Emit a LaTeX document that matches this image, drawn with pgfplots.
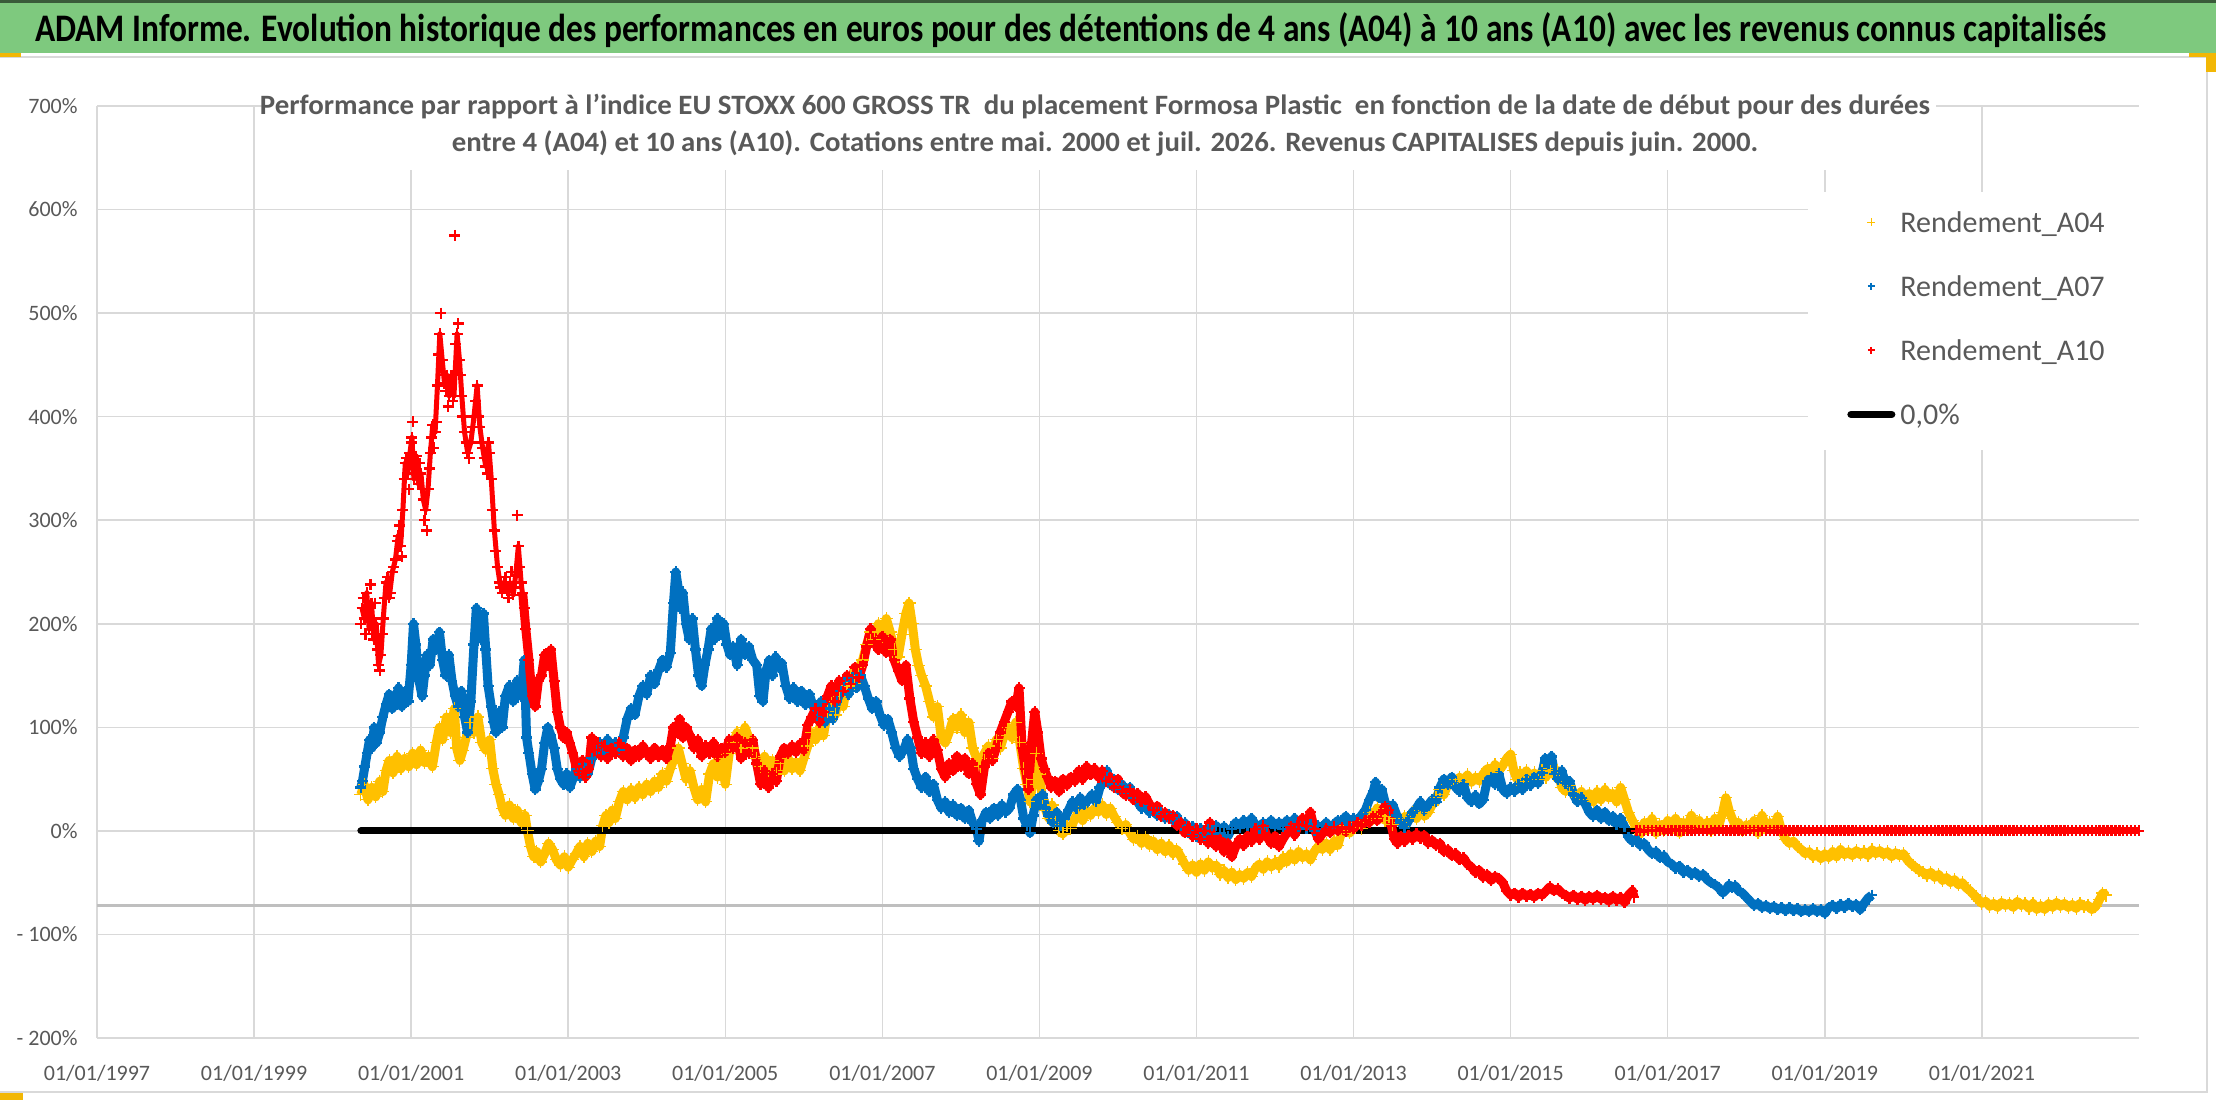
\documentclass[border=0pt]{standalone}
\usepackage{fontspec}
\setmainfont{Carlito}
\usepackage{graphicx}
\usepackage{pgfplots}
\usepackage{pgfplotstable}
\pgfplotsset{compat=1.18}
\definecolor{yel}{HTML}{FFC000}
\definecolor{blu}{HTML}{0070C0}
\definecolor{rd}{HTML}{FF0000}
\definecolor{txtgray}{HTML}{595959}
\definecolor{gridgray}{HTML}{D9D9D9}
\definecolor{axgray}{HTML}{BFBFBF}
\definecolor{banner}{RGB}{126,201,126}
\definecolor{handle}{HTML}{F2B705}

\pgfplotstableread{
x y
2000.36 35
2000.40 45
2000.45 30
2000.50 42
2000.55 33
2000.60 48
2000.64 38
2000.68 58
2000.72 68
2000.77 56
2000.82 72
2000.87 60
2000.92 70
2000.97 62
2001.02 75
2001.07 64
2001.12 78
2001.17 66
2001.22 72
2001.27 62
2001.32 85
2001.36 100
2001.40 88
2001.45 110
2001.50 95
2001.55 118
2001.58 80
2001.62 68
2001.66 78
2001.70 90
2001.75 105
2001.80 95
2001.85 110
2001.90 85
2001.95 78
2002.00 88
2002.04 60
2002.08 45
2002.12 35
2002.16 22
2002.20 15
2002.25 25
2002.30 12
2002.35 20
2002.40 8
2002.45 15
2002.48 0
2002.52 -15
2002.56 -25
2002.60 -20
2002.65 -30
2002.70 -22
2002.75 -12
2002.80 -18
2002.85 -28
2002.90 -33
2002.95 -25
2003.00 -35
2003.05 -28
2003.10 -22
2003.15 -15
2003.20 -25
2003.25 -12
2003.30 -20
2003.35 -10
2003.40 -15
2003.44 5
2003.48 15
2003.52 8
2003.56 20
2003.60 12
2003.65 28
2003.70 38
2003.75 30
2003.80 40
2003.85 32
2003.90 42
2003.95 35
2004.00 45
2004.05 38
2004.10 48
2004.15 42
2004.20 55
2004.25 48
2004.30 60
2004.35 70
2004.40 80
2004.45 65
2004.50 50
2004.55 58
2004.60 42
2004.65 30
2004.70 40
2004.75 28
2004.80 55
2004.85 65
2004.90 52
2004.95 70
2005.00 45
2005.05 75
2005.10 85
2005.15 95
2005.20 80
2005.25 100
2005.30 90
2005.35 80
2005.40 70
2005.45 62
2005.50 72
2005.55 58
2005.60 68
2005.65 55
2005.70 65
2005.75 58
2005.80 70
2005.85 60
2005.90 66
2005.95 58
2006.00 70
2006.05 82
2006.10 95
2006.15 88
2006.20 100
2006.25 92
2006.30 115
2006.35 125
2006.40 112
2006.45 130
2006.50 120
2006.55 140
2006.60 150
2006.65 142
2006.70 158
2006.75 165
2006.80 180
2006.85 192
2006.90 185
2006.95 200
2007.00 188
2007.05 205
2007.10 192
2007.15 175
2007.20 168
2007.25 190
2007.30 210
2007.34 220
2007.38 200
2007.42 175
2007.46 160
2007.50 150
2007.55 140
2007.60 125
2007.65 110
2007.70 120
2007.75 90
2007.80 85
2007.85 95
2007.90 108
2007.95 100
2008.00 112
2008.05 95
2008.10 105
2008.15 80
2008.20 70
2008.25 62
2008.30 75
2008.35 82
2008.40 70
2008.45 88
2008.50 80
2008.55 92
2008.60 100
2008.65 90
2008.70 105
2008.75 85
2008.80 60
2008.84 45
2008.88 28
2008.92 50
2008.96 75
2009.00 55
2009.04 30
2009.08 20
2009.12 12
2009.16 25
2009.20 8
2009.25 0
2009.30 -3
2009.35 5
2009.40 2
2009.45 12
2009.50 18
2009.55 10
2009.60 20
2009.65 15
2009.70 22
2009.75 18
2009.80 25
2009.85 16
2009.90 22
2009.95 14
2010.00 8
2010.05 2
2010.10 6
2010.15 -2
2010.20 -8
2010.25 -5
2010.30 -12
2010.35 -6
2010.40 -14
2010.45 -10
2010.50 -18
2010.55 -12
2010.60 -20
2010.65 -14
2010.70 -22
2010.75 -18
2010.80 -25
2010.85 -32
2010.90 -38
2010.95 -33
2011.00 -40
2011.05 -32
2011.10 -38
2011.15 -30
2011.20 -36
2011.25 -33
2011.30 -42
2011.35 -38
2011.40 -45
2011.45 -40
2011.50 -47
2011.55 -42
2011.60 -46
2011.65 -40
2011.70 -44
2011.75 -36
2011.80 -32
2011.85 -37
2011.90 -30
2011.95 -35
2012.00 -30
2012.05 -34
2012.10 -26
2012.15 -30
2012.20 -22
2012.25 -28
2012.30 -20
2012.35 -26
2012.40 -22
2012.45 -28
2012.50 -20
2012.55 -15
2012.60 -18
2012.65 -12
2012.70 -18
2012.75 -10
2012.80 -14
2012.85 0
2012.90 5
2012.95 -2
2013.00 3
2013.05 8
2013.10 2
2013.15 10
2013.20 18
2013.25 12
2013.30 22
2013.35 15
2013.40 10
2013.45 14
2013.50 6
2013.55 12
2013.60 8
2013.65 14
2013.70 10
2013.75 18
2013.80 12
2013.85 20
2013.90 14
2013.95 18
2014.00 25
2014.05 32
2014.10 40
2014.15 35
2014.20 45
2014.25 50
2014.30 46
2014.35 52
2014.40 48
2014.45 54
2014.50 47
2014.55 52
2014.60 48
2014.65 55
2014.70 60
2014.75 56
2014.80 64
2014.85 58
2014.90 63
2014.95 70
2015.00 74
2015.04 58
2015.08 50
2015.12 56
2015.16 48
2015.20 58
2015.25 52
2015.30 56
2015.35 50
2015.40 58
2015.45 52
2015.50 60
2015.55 54
2015.60 58
2015.65 42
2015.70 38
2015.75 44
2015.80 36
2015.85 32
2015.90 38
2015.95 30
2016.00 36
2016.05 28
2016.10 38
2016.15 30
2016.20 40
2016.25 32
2016.30 36
2016.35 28
2016.40 42
2016.45 30
2016.50 18
2016.55 10
2016.60 3
2016.65 -3
2016.70 8
2016.75 2
2016.80 12
2016.85 -2
2016.90 6
2016.95 0
2017.00 10
2017.05 3
2017.10 12
2017.15 -2
2017.20 8
2017.25 2
2017.30 15
2017.35 5
2017.40 10
2017.45 3
2017.50 8
2017.55 0
2017.60 12
2017.65 5
2017.70 18
2017.74 32
2017.78 20
2017.82 12
2017.86 5
2017.90 8
2017.95 0
2018.00 6
2018.05 2
2018.10 10
2018.15 -2
2018.20 15
2018.25 4
2018.30 8
2018.35 2
2018.40 14
2018.45 0
2018.50 -8
2018.55 -12
2018.60 -10
2018.65 -15
2018.70 -18
2018.75 -22
2018.80 -20
2018.85 -25
2018.90 -22
2018.95 -27
2019.00 -22
2019.05 -26
2019.10 -20
2019.15 -25
2019.20 -18
2019.25 -23
2019.30 -20
2019.35 -24
2019.40 -19
2019.45 -23
2019.50 -20
2019.55 -24
2019.60 -18
2019.65 -22
2019.70 -19
2019.75 -23
2019.80 -20
2019.85 -25
2019.90 -21
2019.95 -24
2020.00 -22
2020.05 -28
2020.10 -32
2020.15 -35
2020.20 -38
2020.25 -40
2020.30 -43
2020.35 -40
2020.40 -45
2020.45 -42
2020.50 -48
2020.55 -45
2020.60 -50
2020.65 -47
2020.70 -52
2020.75 -50
2020.80 -55
2020.85 -58
2020.90 -62
2020.95 -66
2021.00 -70
2021.05 -68
2021.10 -73
2021.15 -70
2021.20 -74
2021.25 -69
2021.30 -72
2021.35 -70
2021.40 -74
2021.45 -68
2021.50 -72
2021.55 -70
2021.60 -75
2021.65 -70
2021.70 -76
2021.75 -72
2021.80 -76
2021.85 -70
2021.90 -74
2021.95 -69
2022.00 -73
2022.05 -70
2022.10 -74
2022.15 -71
2022.20 -75
2022.25 -70
2022.30 -73
2022.35 -72
2022.40 -76
2022.45 -73
2022.50 -66
2022.54 -60
2022.58 -62
}\tabA

\pgfplotstableread{
x y
2000.36 42
2000.38 48
2000.41 62
2000.44 75
2000.47 88
2000.50 80
2000.53 100
2000.56 85
2000.60 95
2000.64 110
2000.68 122
2000.72 132
2000.76 118
2000.80 128
2000.84 138
2000.88 120
2000.92 135
2000.96 125
2001.00 160
2001.03 200
2001.06 180
2001.10 145
2001.14 130
2001.17 150
2001.20 170
2001.24 160
2001.28 185
2001.32 175
2001.36 192
2001.40 165
2001.44 150
2001.48 170
2001.52 145
2001.56 130
2001.60 120
2001.64 135
2001.68 110
2001.72 95
2001.76 125
2001.80 180
2001.83 215
2001.86 200
2001.89 185
2001.92 210
2001.95 175
2001.98 140
2002.02 120
2002.05 105
2002.08 95
2002.12 115
2002.16 100
2002.20 130
2002.25 140
2002.30 125
2002.35 145
2002.40 130
2002.44 165
2002.47 90
2002.50 75
2002.54 55
2002.58 40
2002.62 48
2002.66 60
2002.70 85
2002.74 100
2002.78 92
2002.82 80
2002.86 60
2002.90 50
2002.94 45
2002.98 55
2003.02 42
2003.06 50
2003.10 60
2003.15 52
2003.20 64
2003.25 55
2003.30 70
2003.35 78
2003.40 85
2003.45 75
2003.50 88
2003.55 80
2003.60 85
2003.65 78
2003.70 90
2003.75 108
2003.80 118
2003.85 112
2003.90 130
2003.95 140
2004.00 132
2004.05 150
2004.10 142
2004.15 155
2004.20 165
2004.25 158
2004.30 172
2004.34 220
2004.37 250
2004.40 235
2004.43 215
2004.46 230
2004.50 200
2004.54 185
2004.58 205
2004.62 175
2004.66 150
2004.70 140
2004.74 160
2004.78 175
2004.82 195
2004.86 185
2004.90 205
2004.94 190
2004.98 200
2005.02 180
2005.06 170
2005.10 178
2005.15 160
2005.20 185
2005.25 170
2005.30 178
2005.35 165
2005.40 160
2005.44 130
2005.48 125
2005.52 155
2005.56 165
2005.60 150
2005.64 168
2005.68 158
2005.72 162
2005.77 140
2005.82 128
2005.87 138
2005.92 125
2005.97 135
2006.02 122
2006.07 132
2006.12 120
2006.17 110
2006.22 125
2006.27 105
2006.32 118
2006.37 108
2006.42 125
2006.47 135
2006.52 145
2006.57 132
2006.62 148
2006.67 138
2006.72 150
2006.77 140
2006.82 128
2006.87 118
2006.92 125
2006.97 112
2007.02 102
2007.07 108
2007.12 95
2007.17 80
2007.22 72
2007.27 78
2007.32 88
2007.36 80
2007.40 60
2007.45 50
2007.50 42
2007.55 52
2007.60 38
2007.65 45
2007.70 30
2007.75 22
2007.80 28
2007.85 18
2007.90 25
2007.95 15
2008.00 22
2008.05 12
2008.10 20
2008.15 8
2008.20 2
2008.23 -10
2008.27 10
2008.32 18
2008.37 12
2008.42 22
2008.47 15
2008.52 25
2008.57 18
2008.62 22
2008.67 35
2008.72 40
2008.76 30
2008.80 12
2008.84 5
2008.88 -2
2008.92 15
2008.96 30
2009.00 25
2009.04 35
2009.08 22
2009.12 15
2009.17 8
2009.22 18
2009.27 5
2009.32 12
2009.37 20
2009.42 28
2009.47 22
2009.52 32
2009.57 25
2009.62 30
2009.67 35
2009.72 28
2009.77 42
2009.82 48
2009.86 58
2009.90 45
2009.95 50
2010.00 40
2010.05 45
2010.10 35
2010.15 42
2010.20 32
2010.25 28
2010.30 22
2010.35 25
2010.40 18
2010.45 22
2010.50 15
2010.55 18
2010.60 12
2010.65 16
2010.70 10
2010.75 14
2010.80 5
2010.85 8
2010.90 -2
2010.95 4
2011.00 -5
2011.05 2
2011.10 -4
2011.15 3
2011.20 -3
2011.25 5
2011.30 -2
2011.35 4
2011.40 -5
2011.45 2
2011.50 8
2011.55 3
2011.60 10
2011.65 4
2011.70 12
2011.75 6
2011.80 2
2011.85 8
2011.90 4
2011.95 10
2012.00 3
2012.05 8
2012.10 2
2012.15 10
2012.20 5
2012.25 12
2012.30 4
2012.35 8
2012.40 2
2012.45 6
2012.50 0
2012.55 5
2012.60 2
2012.65 8
2012.70 3
2012.75 6
2012.80 10
2012.85 8
2012.90 14
2012.95 6
2013.00 12
2013.05 8
2013.10 15
2013.15 20
2013.20 30
2013.25 38
2013.28 47
2013.32 32
2013.36 40
2013.40 28
2013.45 20
2013.50 25
2013.55 15
2013.60 8
2013.65 3
2013.70 10
2013.75 18
2013.80 22
2013.85 28
2013.90 20
2013.95 25
2014.00 30
2014.05 28
2014.10 42
2014.15 50
2014.20 45
2014.25 52
2014.30 42
2014.35 38
2014.40 45
2014.45 32
2014.50 28
2014.55 34
2014.60 26
2014.65 30
2014.70 48
2014.75 52
2014.80 45
2014.85 55
2014.90 40
2014.95 36
2015.00 42
2015.05 38
2015.10 45
2015.15 40
2015.20 50
2015.25 44
2015.30 52
2015.35 46
2015.40 56
2015.44 70
2015.48 65
2015.52 72
2015.56 55
2015.60 50
2015.65 58
2015.70 46
2015.75 48
2015.80 35
2015.85 28
2015.90 32
2015.95 26
2016.00 18
2016.05 14
2016.10 20
2016.15 12
2016.20 18
2016.25 10
2016.30 14
2016.35 6
2016.40 12
2016.45 4
2016.50 -6
2016.55 -10
2016.60 -8
2016.65 -14
2016.70 -12
2016.75 -18
2016.80 -22
2016.85 -20
2016.90 -26
2016.95 -24
2017.00 -30
2017.05 -32
2017.10 -36
2017.15 -34
2017.20 -40
2017.25 -38
2017.30 -42
2017.35 -40
2017.40 -44
2017.45 -42
2017.50 -47
2017.55 -50
2017.60 -52
2017.65 -55
2017.70 -60
2017.74 -57
2017.78 -52
2017.82 -55
2017.86 -53
2017.90 -58
2017.95 -60
2018.00 -64
2018.05 -68
2018.10 -72
2018.15 -70
2018.20 -74
2018.25 -72
2018.30 -75
2018.35 -73
2018.40 -76
2018.45 -74
2018.50 -77
2018.55 -74
2018.60 -77
2018.65 -75
2018.70 -78
2018.75 -76
2018.80 -78
2018.85 -75
2018.90 -78
2018.95 -76
2019.00 -80
2019.05 -74
2019.10 -72
2019.15 -75
2019.20 -71
2019.25 -74
2019.30 -70
2019.35 -73
2019.40 -71
2019.45 -76
2019.50 -70
2019.55 -65
2019.60 -62
}\tabB

\pgfplotstableread{
x y
2000.36 200
2000.39 225
2000.42 190
2000.45 215
2000.48 238
2000.51 205
2000.54 220
2000.57 175
2000.60 155
2000.63 190
2000.66 225
2000.70 245
2000.74 230
2000.78 255
2000.82 280
2000.85 295
2000.88 265
2000.91 340
2000.94 360
2000.97 330
2001.00 375
2001.02 395
2001.05 350
2001.08 340
2001.11 355
2001.14 330
2001.17 300
2001.20 290
2001.23 350
2001.26 380
2001.29 370
2001.32 395
2001.35 460
2001.38 500
2001.41 440
2001.44 425
2001.47 410
2001.50 430
2001.53 415
2001.555 575
2001.57 470
2001.60 490
2001.63 440
2001.66 400
2001.70 375
2001.74 360
2001.78 390
2001.82 415
2001.86 400
2001.89 375
2001.93 360
2001.97 345
2002.00 365
2002.04 310
2002.08 270
2002.12 240
2002.16 230
2002.20 245
2002.24 225
2002.28 250
2002.32 235
2002.35 305
2002.38 255
2002.42 230
2002.46 195
2002.50 165
2002.54 130
2002.58 120
2002.62 145
2002.66 150
2002.70 170
2002.74 160
2002.78 175
2002.82 145
2002.86 115
2002.90 100
2002.94 90
2002.98 95
2003.02 85
2003.06 75
2003.10 62
2003.14 55
2003.18 68
2003.22 52
2003.26 60
2003.30 90
2003.34 78
2003.38 85
2003.42 72
2003.46 82
2003.50 70
2003.55 80
2003.60 75
2003.65 85
2003.70 72
2003.75 80
2003.80 68
2003.85 78
2003.90 72
2003.95 82
2004.00 75
2004.05 70
2004.10 80
2004.15 72
2004.20 78
2004.25 70
2004.30 82
2004.34 100
2004.38 95
2004.42 108
2004.46 90
2004.50 100
2004.55 92
2004.60 80
2004.65 88
2004.70 72
2004.75 82
2004.80 75
2004.85 85
2004.90 72
2004.95 80
2005.00 76
2005.05 88
2005.10 80
2005.15 90
2005.20 70
2005.25 85
2005.30 75
2005.35 88
2005.40 65
2005.45 45
2005.50 58
2005.55 42
2005.60 55
2005.65 48
2005.70 72
2005.75 80
2005.80 75
2005.85 82
2005.90 76
2005.95 84
2006.00 78
2006.05 102
2006.10 110
2006.15 118
2006.20 105
2006.25 115
2006.30 130
2006.35 140
2006.40 125
2006.45 145
2006.50 135
2006.55 150
2006.60 142
2006.65 158
2006.70 148
2006.75 160
2006.80 178
2006.85 195
2006.90 182
2006.95 175
2007.00 188
2007.05 172
2007.10 185
2007.15 165
2007.20 155
2007.25 145
2007.30 160
2007.35 128
2007.40 105
2007.45 90
2007.50 75
2007.55 85
2007.60 72
2007.65 88
2007.70 78
2007.75 60
2007.80 52
2007.85 65
2007.90 58
2007.95 72
2008.00 62
2008.05 70
2008.10 55
2008.15 65
2008.20 45
2008.25 35
2008.30 62
2008.35 75
2008.40 68
2008.45 80
2008.50 95
2008.55 105
2008.60 115
2008.65 125
2008.70 120
2008.74 138
2008.78 80
2008.82 60
2008.86 40
2008.90 85
2008.94 115
2008.98 95
2009.02 70
2009.06 60
2009.10 52
2009.15 42
2009.20 48
2009.25 38
2009.30 50
2009.35 44
2009.40 52
2009.45 48
2009.50 58
2009.55 50
2009.60 62
2009.65 54
2009.70 60
2009.75 52
2009.80 58
2009.85 48
2009.90 52
2009.95 42
2010.00 50
2010.05 38
2010.10 34
2010.15 40
2010.20 30
2010.25 36
2010.30 28
2010.35 33
2010.40 26
2010.45 20
2010.50 24
2010.55 14
2010.60 18
2010.65 12
2010.70 15
2010.75 5
2010.80 8
2010.85 -2
2010.90 4
2010.95 -5
2011.00 2
2011.05 -8
2011.10 0
2011.15 -12
2011.17 8
2011.20 -5
2011.25 -15
2011.30 -8
2011.35 -20
2011.40 -12
2011.45 -25
2011.50 -15
2011.55 -8
2011.60 -14
2011.65 -5
2011.70 -10
2011.75 2
2011.80 -8
2011.85 5
2011.90 -6
2011.95 -12
2012.00 -5
2012.05 -15
2012.10 -8
2012.15 -2
2012.20 4
2012.25 -4
2012.30 6
2012.35 12
2012.40 5
2012.45 18
2012.50 2
2012.55 -8
2012.60 -3
2012.65 2
2012.70 -2
2012.75 4
2012.80 0
2012.85 3
2012.90 -1
2012.95 4
2013.00 2
2013.05 8
2013.10 5
2013.15 10
2013.20 8
2013.25 14
2013.30 10
2013.35 18
2013.40 24
2013.44 20
2013.48 5
2013.52 -8
2013.56 -12
2013.60 -5
2013.65 -10
2013.70 -4
2013.75 -8
2013.80 -3
2013.85 -7
2013.90 -4
2013.95 -12
2014.00 -9
2014.05 -14
2014.10 -12
2014.15 -20
2014.20 -18
2014.25 -24
2014.30 -22
2014.35 -28
2014.40 -26
2014.45 -32
2014.50 -35
2014.55 -40
2014.60 -38
2014.65 -45
2014.70 -42
2014.75 -48
2014.80 -44
2014.85 -46
2014.90 -50
2014.95 -58
2015.00 -62
2015.05 -60
2015.10 -64
2015.15 -60
2015.20 -63
2015.25 -61
2015.30 -64
2015.35 -60
2015.40 -62
2015.45 -58
2015.50 -54
2015.55 -58
2015.60 -56
2015.65 -60
2015.70 -62
2015.75 -65
2015.80 -62
2015.85 -66
2015.90 -63
2015.95 -67
2016.00 -63
2016.05 -66
2016.10 -62
2016.15 -66
2016.20 -64
2016.25 -68
2016.30 -63
2016.35 -67
2016.40 -64
2016.45 -69
2016.50 -62
2016.55 -58
2016.57 -64
}\tabC

\pgfplotstableread{
x y
2000.375 215
2000.405 205
2000.435 230
2000.465 195
2000.495 220
2000.525 185
2000.555 200
2000.585 160
2000.615 170
2000.645 205
2000.68 240
2000.72 225
2000.76 250
2000.80 262
2000.835 285
2000.865 275
2000.895 310
2000.925 355
2000.955 345
2000.985 365
2001.01 380
2001.035 340
2001.065 362
2001.095 335
2001.125 345
2001.155 320
2001.185 310
2001.215 330
2001.245 365
2001.275 392
2001.305 385
2001.335 430
2001.365 480
2001.395 455
2001.425 432
2001.455 440
2001.485 420
2001.515 440
2001.545 420
2001.585 480
2001.615 455
2001.645 420
2001.68 385
2001.72 365
2001.76 375
2001.80 400
2001.84 430
2001.875 390
2001.91 370
2001.95 352
2001.985 375
2002.02 340
2002.06 290
2002.10 255
2002.14 235
2002.18 240
2002.22 232
2002.26 240
2002.30 228
2002.335 250
2002.365 275
2002.40 240
2002.44 215
}\tabE

\pgfplotstableread[row sep=\\]{
x y\\
2016.60 0\\ 2016.65 0\\ 2016.70 0\\ 2016.75 0\\ 2016.80 0\\ 2016.85 0\\ 2016.90 0\\ 2016.95 0\\
2017.00 0\\ 2017.05 0\\ 2017.10 0\\ 2017.15 0\\ 2017.20 0\\ 2017.25 0\\ 2017.30 0\\ 2017.35 0\\ 2017.40 0\\ 2017.45 0\\
2017.50 0\\ 2017.55 0\\ 2017.60 0\\ 2017.65 0\\ 2017.70 0\\ 2017.75 0\\ 2017.80 0\\ 2017.85 0\\ 2017.90 0\\ 2017.95 0\\
2018.00 0\\ 2018.05 0\\ 2018.10 0\\ 2018.15 0\\ 2018.20 0\\ 2018.25 0\\ 2018.30 0\\ 2018.35 0\\ 2018.40 0\\ 2018.45 0\\
2018.50 0\\ 2018.55 0\\ 2018.60 0\\ 2018.65 0\\ 2018.70 0\\ 2018.75 0\\ 2018.80 0\\ 2018.85 0\\ 2018.90 0\\ 2018.95 0\\
2019.00 0\\ 2019.05 0\\ 2019.10 0\\ 2019.15 0\\ 2019.20 0\\ 2019.25 0\\ 2019.30 0\\ 2019.35 0\\ 2019.40 0\\ 2019.45 0\\
2019.50 0\\ 2019.55 0\\ 2019.60 0\\ 2019.65 0\\ 2019.70 0\\ 2019.75 0\\ 2019.80 0\\ 2019.85 0\\ 2019.90 0\\ 2019.95 0\\
2020.00 0\\ 2020.05 0\\ 2020.10 0\\ 2020.15 0\\ 2020.20 0\\ 2020.25 0\\ 2020.30 0\\ 2020.35 0\\ 2020.40 0\\ 2020.45 0\\
2020.50 0\\ 2020.55 0\\ 2020.60 0\\ 2020.65 0\\ 2020.70 0\\ 2020.75 0\\ 2020.80 0\\ 2020.85 0\\ 2020.90 0\\ 2020.95 0\\
2021.00 0\\ 2021.05 0\\ 2021.10 0\\ 2021.15 0\\ 2021.20 0\\ 2021.25 0\\ 2021.30 0\\ 2021.35 0\\ 2021.40 0\\ 2021.45 0\\
2021.50 0\\ 2021.55 0\\ 2021.60 0\\ 2021.65 0\\ 2021.70 0\\ 2021.75 0\\ 2021.80 0\\ 2021.85 0\\ 2021.90 0\\ 2021.95 0\\
2022.00 0\\ 2022.05 0\\ 2022.10 0\\ 2022.15 0\\ 2022.20 0\\ 2022.25 0\\ 2022.30 0\\ 2022.35 0\\ 2022.40 0\\ 2022.45 0\\
2022.50 0\\ 2022.55 0\\ 2022.60 0\\ 2022.65 0\\ 2022.70 0\\ 2022.75 0\\ 2022.80 0\\ 2022.85 0\\ 2022.90 0\\ 2022.95 0\\
2023.00 0\\
}\tabD

\begin{document}
\begin{tikzpicture}[x=1pt,y=1pt]
\path[use as bounding box, fill=white] (0,0) rectangle (1108,551);
% banner
\fill[banner] (0,524.5) rectangle (1108,551);
\fill[black!55!banner] (0,549.5) rectangle (1108,551);
\node[anchor=base, inner sep=0pt] at (535.5,530) {\resizebox{1036pt}{\height}{\fontsize{19.5}{22}\selectfont\bfseries ADAM Informe. Evolution historique des performances en euros pour des détentions de 4 ans (A04) à 10 ans (A10) avec les revenus connus capitalisés}};
% chart borders
\draw[gridgray, line width=1pt] (0,522.5) -- (1108,522.5);
\draw[gridgray, line width=0.75pt] (1103.5,522.5) -- (1103.5,5) -- (0,5);
\fill[handle] (0,522.3) rectangle (10.5,524.3);
\fill[handle] (1094.5,522.5) rectangle (1108,524.5);
\fill[handle] (1103,515) rectangle (1108,524.5);
\fill[handle] (0,1) rectangle (11.5,4.5);

\begin{axis}[
  at={(48.5pt,32pt)}, anchor=south west, scale only axis,
  width=1021pt, height=466pt,
  xmin=1997, xmax=2023, ymin=-200, ymax=700,
  axis line style={draw=none}, tick style={draw=none},
  xtick={1997,1999,...,2021},
  xticklabels={01/01/1997,01/01/1999,01/01/2001,01/01/2003,01/01/2005,01/01/2007,01/01/2009,01/01/2011,01/01/2013,01/01/2015,01/01/2017,01/01/2019,01/01/2021},
  ytick={-200,-100,...,700},
  yticklabels={- 200\%,- 100\%,0\%,100\%,200\%,300\%,400\%,500\%,600\%,700\%},
  grid=major, major grid style={draw=gridgray, line width=0.75pt},
  extra y ticks={-72}, extra y tick labels={},
  extra y tick style={grid=major, major grid style={draw=axgray, line width=1.2pt}},
  ticklabel style={font=\fontsize{11}{13}\selectfont, text=txtgray},
  xticklabel style={anchor=center, yshift=-17.5pt, inner sep=0pt},
  yticklabel style={anchor=east, inner sep=0pt, xshift=-9.5pt},
  legend style={at={(0.8379,0.9077)}, anchor=north west, draw=none, fill=white,
    inner xsep=19.5pt, inner ysep=9pt, row sep=17pt,
    font=\fontsize{15}{17}\selectfont, text=txtgray,
    nodes={inner sep=0pt, text height=11pt, text depth=4pt},
    /tikz/every odd column/.append style={column sep=2.5pt}},
  legend cell align=left,
]
% A04
\addplot[yel, line width=4.5pt, line join=round, forget plot] table[x=x,y=y] {\tabA};
\addplot[only marks, mark=+, yel, mark size=3.25pt, line width=0.6pt, forget plot] table[x=x,y=y] {\tabA};
% A07
\addplot[blu, line width=4.5pt, line join=round, forget plot] table[x=x,y=y] {\tabB};
\addplot[only marks, mark=+, blu, mark size=2.75pt, line width=1.2pt, forget plot] table[x=x,y=y] {\tabB};
% zero line
\addplot[black, line width=3.5pt, line cap=round, forget plot] coordinates {(2000.36,0) (2023,0)};
% A10
\addplot[rd, line width=4.5pt, line join=round, forget plot, restrict x to domain=2002.4:2017] table[x=x,y=y] {\tabC};
\addplot[rd, line width=2.5pt, line join=round, forget plot] table[x=x,y=y] {\tabE};
\addplot[only marks, mark=+, rd, mark size=2.75pt, line width=1.2pt, forget plot] table[x=x,y=y] {\tabC};
\addplot[only marks, mark=+, rd, mark size=2.75pt, line width=1.2pt, forget plot] table[x=x,y=y] {\tabE};
\addplot[rd, line width=3.5pt, forget plot] table[x=x,y=y] {\tabD};
\addplot[only marks, mark=+, rd, mark size=2.75pt, line width=1.2pt, forget plot] table[x=x,y=y] {\tabD};

\addlegendimage{legend image code/.code={\path[draw=none,fill=none] (0pt,-7.5pt) rectangle (24pt,7.5pt); \draw[yel, line width=0.5pt, mark size=2pt, mark=+] plot coordinates {(12pt,1.5pt)};}}
\addlegendentry{Rendement\_A04}
\addlegendimage{legend image code/.code={\path[draw=none,fill=none] (0pt,-7.5pt) rectangle (24pt,7.5pt); \draw[blu, line width=1pt, mark size=1.75pt, mark=+] plot coordinates {(12pt,1.5pt)};}}
\addlegendentry{Rendement\_A07}
\addlegendimage{legend image code/.code={\path[draw=none,fill=none] (0pt,-7.5pt) rectangle (24pt,7.5pt); \draw[rd, line width=1pt, mark size=1.75pt, mark=+] plot coordinates {(12pt,1.5pt)};}}
\addlegendentry{Rendement\_A10}
\addlegendimage{legend image code/.code={\path[draw=none,fill=none] (0pt,-7.5pt) rectangle (24pt,7.5pt); \draw[black, line width=3.5pt, line cap=round] (1.75pt,1.5pt) -- (22.25pt,1.5pt);}}
\addlegendentry{0,0\%}
\end{axis}

% subtitle box
\fill[white] (132.5,466) rectangle (968,508.5);
\node[anchor=base, inner sep=0pt, text=txtgray] at (547.5,493.5) {\resizebox{835pt}{\height}{\fontsize{14}{16}\selectfont\bfseries Performance par rapport à l'indice EU STOXX 600 GROSS TR\ \ du placement Formosa Plastic\ \ en fonction de la date de début pour des durées}};
\node[anchor=base, inner sep=0pt, text=txtgray] at (552.5,475) {\resizebox{653pt}{\height}{\fontsize{14}{16}\selectfont\bfseries entre 4 (A04) et 10 ans (A10). Cotations entre mai. 2000 et juil. 2026. Revenus CAPITALISES depuis juin. 2000.}};
\end{tikzpicture}
\end{document}
